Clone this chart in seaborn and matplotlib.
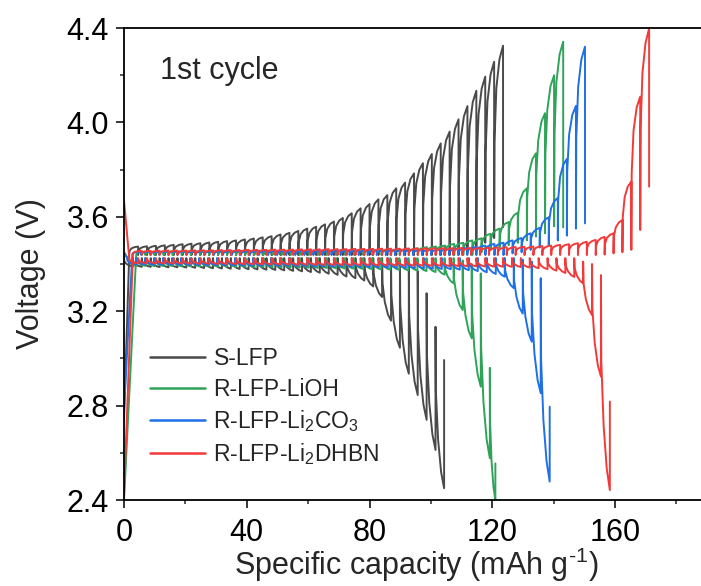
"""GITT curves (1st cycle) of pristine and regenerated LFP."""
import numpy as np
import pandas as pd
import matplotlib
matplotlib.use("Agg")
import matplotlib.pyplot as plt
import seaborn as sns

SAMPLES = ["S-LFP", "R-LFP-LiOH", "R-LFP-Li$_2$CO$_3$", "R-LFP-Li$_2$DHBN"]
COLORS = ["#4a4a4a", "#2fa35a", "#1f6fe5", "#f23a3a"]

# charge branch: voltage at 0 capacity, start of 1st pulse, end of last pulse, pulse size (mAh/g)
CHG_START_V = [2.74, 2.40, 2.78, 2.42]
CHG_FIRST_Q = [1.7, 3.98, 2.7, 2.9]
CHG_LAST_Q = [123.5, 143.1, 150.2, 171.1]
CHG_STEP = [2.9, 2.96, 2.95, 2.9]

# discharge branch
DIS_START_V = [3.45, 3.45, 3.45, 3.67]
DIS_FIRST_Q = [0.0, 1.2, 1.0, 1.7]
DIS_LAST_Q = [104.3, 121.0, 138.7, 158.3]
DIS_STEP = [2.9, 2.95, 2.93, 2.9]

# S-LFP: end-of-pulse voltage and relaxed voltage of every titration step
slfp_chg_peak = [3.474, 3.475, 3.477, 3.479, 3.481, 3.484, 3.486, 3.488, 3.491, 3.494,
                 3.497, 3.500, 3.504, 3.508, 3.513, 3.518, 3.525, 3.532, 3.540, 3.550,
                 3.558, 3.568, 3.580, 3.595, 3.615, 3.636, 3.654, 3.674, 3.692, 3.721,
                 3.745, 3.784, 3.827, 3.866, 3.911, 3.961, 4.013, 4.069, 4.134, 4.194,
                 4.257, 4.325]
slfp_chg_rest = [3.438] * 37 + [3.45, 3.47, 3.49, 3.51, 3.556]
slfp_dis_low = [3.389, 3.388, 3.388, 3.387, 3.386, 3.386, 3.385, 3.384, 3.383, 3.382,
                3.381, 3.380, 3.379, 3.378, 3.377, 3.376, 3.375, 3.373, 3.371, 3.369,
                3.366, 3.363, 3.359, 3.354, 3.347, 3.340, 3.330, 3.305, 3.260, 3.160,
                3.045, 2.935, 2.845, 2.740, 2.612, 2.450]
slfp_dis_rest = [3.425] * 29 + [3.42, 3.415, 3.41, 3.37, 3.276, 3.134, 2.993]

# R-LFP-LiOH
lioh_chg_peak = [3.452, 3.452, 3.452, 3.453, 3.453, 3.453, 3.453, 3.454, 3.454, 3.454,
                 3.454, 3.455, 3.455, 3.455, 3.455, 3.455, 3.456, 3.456, 3.456, 3.456,
                 3.456, 3.457, 3.457, 3.457, 3.457, 3.457, 3.458, 3.459, 3.461, 3.463,
                 3.466, 3.471, 3.474, 3.478, 3.485, 3.490, 3.500, 3.509, 3.528, 3.550,
                 3.578, 3.617, 3.721, 3.869, 4.039, 4.200, 4.342]
lioh_chg_rest = [3.438] * 37 + [3.45, 3.46, 3.47, 3.48, 3.49, 3.50, 3.516, 3.53, 3.56, 3.555]
lioh_dis_low = [3.392, 3.392, 3.391, 3.391, 3.391, 3.390, 3.390, 3.390, 3.389, 3.389,
                3.389, 3.388, 3.388, 3.387, 3.387, 3.386, 3.386, 3.385, 3.385, 3.384,
                3.383, 3.383, 3.382, 3.381, 3.380, 3.379, 3.378, 3.377, 3.376, 3.375,
                3.373, 3.372, 3.370, 3.366, 3.355, 3.318, 3.205, 3.085, 2.880, 2.577,
                2.400]
lioh_dis_rest = [3.425] * 36 + [3.415, 3.40, 3.36, 2.96, 2.555]

# R-LFP-Li2CO3
li2co3_chg_peak = [3.452, 3.452, 3.452, 3.453, 3.453, 3.453, 3.453, 3.454, 3.454, 3.454,
                   3.454, 3.455, 3.455, 3.455, 3.455, 3.456, 3.456, 3.456, 3.456, 3.457,
                   3.457, 3.457, 3.457, 3.457, 3.458, 3.458, 3.458, 3.458, 3.459, 3.459,
                   3.459, 3.459, 3.460, 3.461, 3.463, 3.465, 3.468, 3.472, 3.478, 3.485,
                   3.490, 3.500, 3.510, 3.530, 3.553, 3.598, 3.680, 3.845, 4.070, 4.321]
li2co3_chg_rest = [3.438] * 41 + [3.445, 3.45, 3.46, 3.47, 3.48, 3.50, 3.52, 3.55, 3.572]
li2co3_dis_low = [3.398, 3.398, 3.397, 3.397, 3.397, 3.396, 3.396, 3.396, 3.395, 3.395,
                  3.395, 3.394, 3.394, 3.393, 3.393, 3.393, 3.392, 3.392, 3.391, 3.391,
                  3.390, 3.390, 3.389, 3.389, 3.388, 3.387, 3.387, 3.386, 3.385, 3.384,
                  3.383, 3.382, 3.381, 3.380, 3.379, 3.378, 3.376, 3.374, 3.370, 3.365,
                  3.358, 3.346, 3.298, 3.190, 3.071, 2.853, 2.478]
li2co3_dis_rest = [3.425] * 43 + [3.418, 3.41, 3.34, 2.795]

# R-LFP-Li2DHBN
dhbn_chg_peak = [3.456, 3.456, 3.456, 3.457, 3.457, 3.457, 3.458, 3.458, 3.458, 3.459,
                 3.459, 3.459, 3.460, 3.460, 3.460, 3.461, 3.461, 3.461, 3.462, 3.462,
                 3.462, 3.463, 3.463, 3.463, 3.464, 3.464, 3.464, 3.465, 3.465, 3.465,
                 3.466, 3.466, 3.466, 3.467, 3.467, 3.467, 3.468, 3.468, 3.468, 3.469,
                 3.470, 3.471, 3.472, 3.473, 3.474, 3.476, 3.478, 3.481, 3.484, 3.488,
                 3.494, 3.502, 3.515, 3.530, 3.586, 3.749, 4.109, 4.398]
dhbn_chg_rest = [3.438] * 52 + [3.44, 3.445, 3.45, 3.46, 3.544, 3.728]
dhbn_dis_low = [3.403, 3.403, 3.403, 3.402, 3.402, 3.402, 3.401, 3.401, 3.401, 3.400,
                3.400, 3.400, 3.399, 3.399, 3.399, 3.398, 3.398, 3.398, 3.397, 3.397,
                3.397, 3.396, 3.396, 3.396, 3.395, 3.395, 3.395, 3.394, 3.394, 3.394,
                3.393, 3.393, 3.393, 3.392, 3.392, 3.391, 3.391, 3.390, 3.390, 3.389,
                3.389, 3.388, 3.388, 3.387, 3.385, 3.382, 3.378, 3.372, 3.362, 3.345,
                3.318, 3.184, 2.923, 2.442]
dhbn_dis_rest = [3.425] * 50 + [3.41, 3.40, 3.353, 2.817]

CHG_PEAK = [slfp_chg_peak, lioh_chg_peak, li2co3_chg_peak, dhbn_chg_peak]
CHG_REST = [slfp_chg_rest, lioh_chg_rest, li2co3_chg_rest, dhbn_chg_rest]
DIS_LOW = [slfp_dis_low, lioh_dis_low, li2co3_dis_low, dhbn_dis_low]
DIS_REST = [slfp_dis_rest, lioh_dis_rest, li2co3_dis_rest, dhbn_dis_rest]

# shape of one current pulse (fraction of pulse length, fraction of voltage change)
CHG_T, CHG_F = [0.04, 0.25, 0.6, 1.0], [0.5, 0.78, 0.93, 1.0]
DIS_T, DIS_F = [0.04, 0.3, 0.65, 1.0], [0.4, 0.7, 0.9, 1.0]


def gitt_branch(v0, q_first, q_last, step, ends, rests, shape_t, shape_f):
    """Vertices of a GITT branch: pulse (curve) then relaxation (vertical)."""
    edges = q_first + step * np.arange(len(ends) + 1)
    edges[-1] = q_last
    qs, vs = [0.0, q_first], [v0, rests[0]]
    prev = rests[0]
    for i, (e, r) in enumerate(zip(ends, rests)):
        qa, qb = edges[i], edges[i + 1]
        for t, f in zip(shape_t, shape_f):
            qs.append(qa + t * (qb - qa))
            vs.append(prev + f * (e - prev))
        qs.append(qb)
        vs.append(r)
        prev = r
    return qs, vs


def build_frame():
    rows = []
    for i, name in enumerate(SAMPLES):
        q, v = gitt_branch(CHG_START_V[i], CHG_FIRST_Q[i], CHG_LAST_Q[i], CHG_STEP[i],
                           CHG_PEAK[i], CHG_REST[i], CHG_T, CHG_F)
        rows.append(pd.DataFrame({"sample": name, "curve": f"{i}c", "q": q, "v": v}))
        q, v = gitt_branch(DIS_START_V[i], DIS_FIRST_Q[i], DIS_LAST_Q[i], DIS_STEP[i],
                           DIS_LOW[i], DIS_REST[i], DIS_T, DIS_F)
        rows.append(pd.DataFrame({"sample": name, "curve": f"{i}d", "q": q, "v": v}))
    return pd.concat(rows, ignore_index=True)


def main():
    df = build_frame()

    sns.set_theme(style="ticks")
    plt.rcParams["font.family"] = ["Liberation Sans", "DejaVu Sans"]
    plt.rcParams["mathtext.fontset"] = "custom"
    plt.rcParams["mathtext.rm"] = "Liberation Sans"
    plt.rcParams["mathtext.default"] = "regular"

    fig = plt.figure(figsize=(7.01, 5.86), dpi=100)
    ax = fig.add_axes([124 / 701, 86 / 586, 577 / 701, 472 / 586])

    sns.lineplot(data=df, x="q", y="v", hue="sample", units="curve",
                 estimator=None, sort=False, hue_order=SAMPLES,
                 palette=dict(zip(SAMPLES, COLORS)), linewidth=1.4, ax=ax)

    ax.set_xlim(0, 188)
    ax.set_ylim(2.4, 4.4)
    ax.set_xticks(np.arange(0, 161, 40))
    ax.set_xticks(np.arange(20, 181, 40), minor=True)
    ax.set_yticks(np.arange(2.4, 4.41, 0.4))
    ax.set_yticks(np.arange(2.6, 4.3, 0.4), minor=True)
    ax.yaxis.set_major_formatter(matplotlib.ticker.FormatStrFormatter("%.1f"))
    ax.tick_params(which="major", direction="out", length=6, width=1.1, labelsize=22,
                   colors="black")
    ax.tick_params(axis="x", which="major", pad=7)
    ax.tick_params(axis="y", which="major", pad=5)
    ax.tick_params(which="minor", direction="out", length=3, width=1.1)
    for side in ["left", "bottom", "top"]:
        ax.spines[side].set_linewidth(1.3)
        ax.spines[side].set_color("black")
    ax.spines["right"].set_visible(False)

    ax.set_xlabel(r"Specific capacity (mAh g$^{\text{-}1}$)", fontsize=22)
    ax.xaxis.set_label_coords(0.506, -0.097)
    ax.set_ylabel("Voltage (V)", fontsize=22)
    ax.yaxis.set_label_coords(-0.135, 0.48)
    ax.text(0.062, 0.94, "1st cycle", transform=ax.transAxes, fontsize=22, va="top")

    handles, labels = ax.get_legend_handles_labels()
    leg = ax.legend(handles, labels, frameon=False, fontsize=16.5, loc="lower left",
                    bbox_to_anchor=(0.03, 0.05), handlelength=2.4,
                    handletextpad=0.35, labelspacing=0.32, borderaxespad=0)
    for line in leg.get_lines():
        line.set_linewidth(1.8)

    fig.savefig("out.png", dpi=100)


if __name__ == "__main__":
    main()
